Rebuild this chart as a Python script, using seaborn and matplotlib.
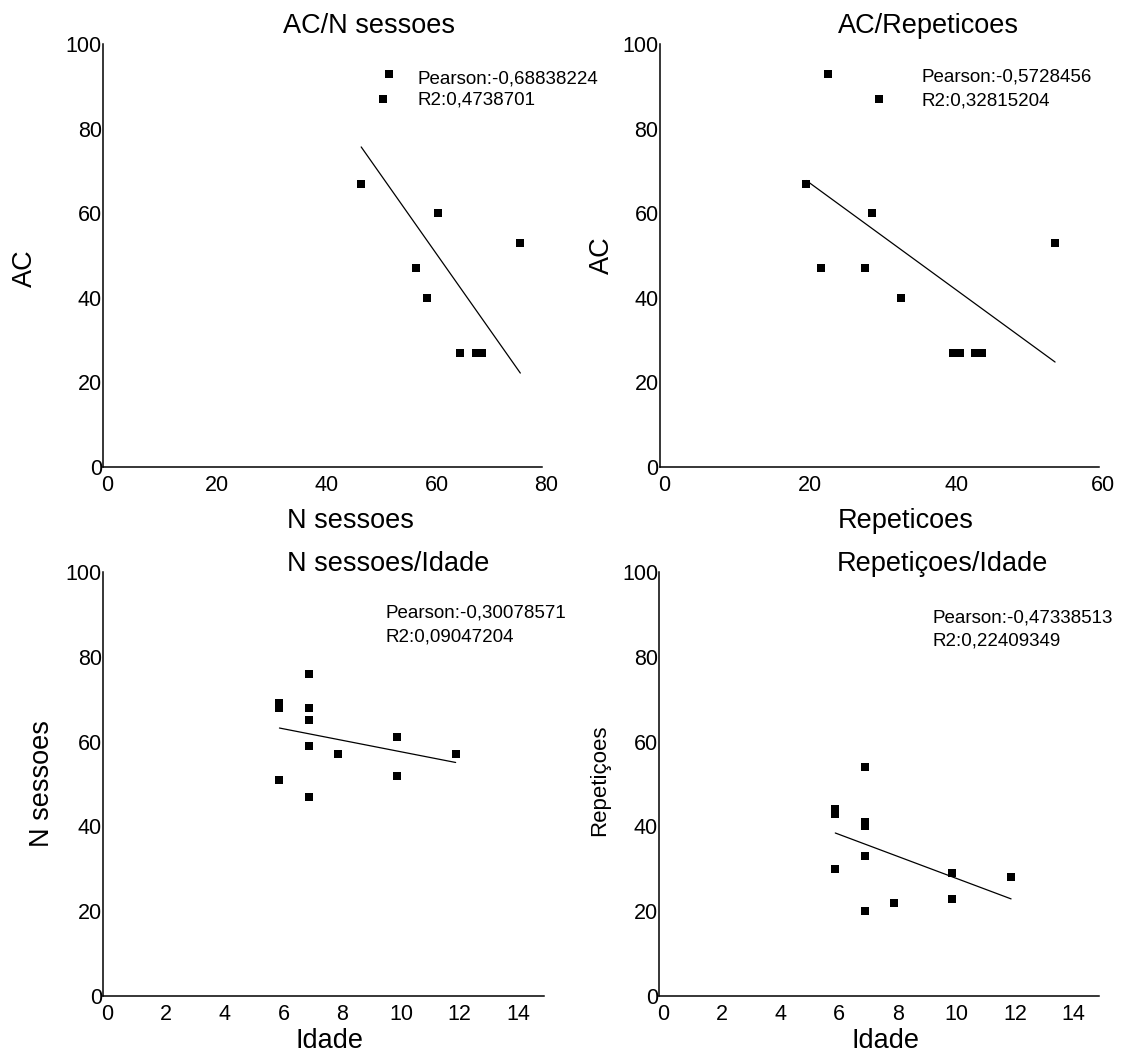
import numpy as np
import pandas as pd
import matplotlib
matplotlib.use("Agg")
import matplotlib.pyplot as plt
from matplotlib.ticker import MultipleLocator
from matplotlib.transforms import ScaledTranslation
import seaborn as sns

# Per-subject measurements
ac = [93, 87, 67, 60, 53, 47, 47, 40, 27, 27, 27, 27]
n_sessoes = [52, 51, 47, 61, 76, 57, 57, 59, 65, 68, 68, 69]
repeticoes = [23, 30, 20, 29, 54, 22, 28, 33, 40, 41, 43, 44]
idade = [10, 6, 7, 10, 7, 8, 12, 7, 7, 7, 6, 6]

# Panel texts
titles = ["AC/N sessoes", "AC/Repeticoes", "N sessoes/Idade", "Repetiçoes/Idade"]
x_labels = ["N sessoes", "Repeticoes", "Idade", "Idade"]
y_labels = ["AC", "AC", "N sessoes", "Repetiçoes"]
pearson_labels = ["Pearson:-0,68838224", "Pearson:-0,5728456",
                  "Pearson:-0,30078571", "Pearson:-0,47338513"]
r2_labels = ["R2:0,4738701", "R2:0,32815204", "R2:0,09047204", "R2:0,22409349"]

df = pd.DataFrame({"AC": ac, "N sessoes": n_sessoes,
                   "Repeticoes": repeticoes, "Idade": idade})

sns.set_theme(style="white", rc={
    "text.color": "black",
    "axes.labelcolor": "black",
    "xtick.color": "black",
    "ytick.color": "black",
    "axes.edgecolor": "black",
})
plt.rcParams["font.family"] = ["Liberation Sans", "DejaVu Sans"]

fig = plt.figure(figsize=(11.26, 10.53), dpi=100)

panels = [
    dict(x="N sessoes", y="AC", rect=[0.0917, 0.5565, 0.3899, 0.4017],
         xmax=80, xmajor=20, xminor=10,
         title_xy=(0.41, 1.026), xlab_xy=(0.563, -0.128), ylab_xy=(-0.178, 0.47),
         ylab_fs=19.5, ann_xy=(0.715, 0.917, 0.868)),
    dict(x="Repeticoes", y="AC", rect=[0.5861, 0.5565, 0.3899, 0.4017],
         xmax=60, xmajor=20, xminor=10,
         title_xy=(0.405, 1.026), xlab_xy=(0.560, -0.128), ylab_xy=(-0.132, 0.50),
         ylab_fs=19.5, ann_xy=(0.595, 0.922, 0.865)),
    dict(x="Idade", y="N sessoes", rect=[0.0917, 0.0541, 0.3912, 0.4027],
         xmax=15, xmajor=2, xminor=1,
         title_xy=(0.418, 1.003), xlab_xy=(0.514, -0.105), ylab_xy=(-0.139, 0.50),
         ylab_fs=19.5, ann_xy=(0.640, 0.904, 0.847)),
    dict(x="Idade", y="Repeticoes", rect=[0.5857, 0.0541, 0.3903, 0.4027],
         xmax=15, xmajor=2, xminor=1,
         title_xy=(0.403, 1.003), xlab_xy=(0.515, -0.105), ylab_xy=(-0.137, 0.51),
         ylab_fs=16, ann_xy=(0.622, 0.892, 0.837)),
]

shift_right = ScaledTranslation(4 / 100, 0, fig.dpi_scale_trans)

for i, p in enumerate(panels):
    ax = fig.add_axes(p["rect"])
    sns.regplot(data=df, x=p["x"], y=p["y"], ax=ax, ci=None, truncate=True,
                marker="s", color="black",
                scatter_kws=dict(s=38, linewidths=0, alpha=1),
                line_kws=dict(lw=0.9, color="black"))

    ax.set_xlim(0, p["xmax"])
    ax.set_ylim(0, 100)
    ax.xaxis.set_major_locator(MultipleLocator(p["xmajor"]))
    ax.xaxis.set_minor_locator(MultipleLocator(p["xminor"]))
    ax.yaxis.set_major_locator(MultipleLocator(20))
    ax.yaxis.set_minor_locator(MultipleLocator(10))
    ax.tick_params(which="both", direction="in", length=3, width=0.8,
                   color="#8c8c8c", labelsize=15.5, labelcolor="black")
    ax.tick_params(axis="x", which="major", pad=6)
    ax.tick_params(axis="y", which="major", pad=1)

    sns.despine(ax=ax)
    for side in ("left", "bottom"):
        ax.spines[side].set_color("black")
        ax.spines[side].set_linewidth(1.1)

    for tick in ax.xaxis.get_major_ticks():
        tick.label1.set_transform(tick.label1.get_transform() + shift_right)

    ax.set_xlabel(x_labels[i], fontsize=19.5, va="center", color="black")
    ax.xaxis.set_label_coords(*p["xlab_xy"])
    ax.set_ylabel(y_labels[i], fontsize=p["ylab_fs"], va="center", color="black")
    ax.yaxis.set_label_coords(*p["ylab_xy"])

    ax.text(p["title_xy"][0], p["title_xy"][1], titles[i], transform=ax.transAxes,
            fontsize=19.5, ha="left", va="baseline", color="black")

    ax.text(p["ann_xy"][0], p["ann_xy"][1], pearson_labels[i], transform=ax.transAxes,
            fontsize=13.5, ha="left", va="center", color="black")
    ax.text(p["ann_xy"][0], p["ann_xy"][2], r2_labels[i], transform=ax.transAxes,
            fontsize=13.5, ha="left", va="center", color="black")

fig.savefig("out.png", dpi=100)
